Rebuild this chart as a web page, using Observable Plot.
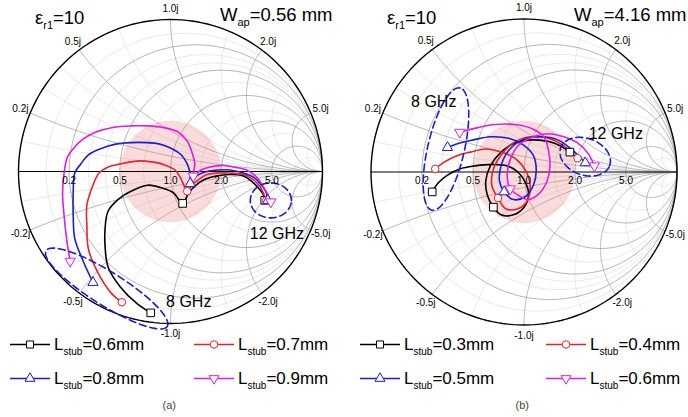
<!DOCTYPE html>
<html><head><meta charset="utf-8">
<script src="https://cdn.jsdelivr.net/npm/d3@7"></script>
<script src="https://cdn.jsdelivr.net/npm/@observablehq/plot@0.6"></script>
<style>
body{margin:0;background:#fff;font-family:"Liberation Sans",Arial,sans-serif;}
#wrap{position:relative;width:688px;height:417px;overflow:hidden;background:#fff}
.abs{position:absolute;white-space:nowrap;line-height:1;color:#000}
.title{font-size:18.5px}
.title .sub{font-size:11px;position:relative;top:5px}
.leg{font-size:17px}
.leg .sub{font-size:10px;position:relative;top:5px}
.cap{font-size:11px;color:#444}
</style></head>
<body><div id="wrap"></div>
<script>
// ---------------- data ----------------
const tickR = [0.2, 0.5, 1.0, 2.0, 5.0];
const tickRLabels = ["0.2", "0.5", "1.0", "2.0", "5.0"];
const tickX = [0.2, 0.5, 1.0, 2.0, 5.0, -0.2, -0.5, -1.0, -2.0, -5.0];
const tickXLabels = ["0.2j", "0.5j", "1.0j", "2.0j", "5.0j", "-0.2j", "-0.5j", "-1.0j", "-2.0j", "-5.0j"];
const minorR = [0.1, 0.3, 0.4, 0.7, 1.5, 3, 10];
const minorX = [0.1, 0.3, 0.4, 0.7, 1.5, 3, 10, -0.1, -0.3, -0.4, -0.7, -1.5, -3, -10];
const matchRadius = 1 / 3; // shaded |Gamma| region (VSWR 2)

const seriesColors = ["#000000", "#e8232a", "#1c1cd0", "#e01ee0"];
const seriesSymbols = ["square", "circle", "triangle", "triangleDown"];
const stubA = ["0.6", "0.7", "0.8", "0.9"];
const stubB = ["0.3", "0.4", "0.5", "0.6"];
const titleA = {eps: "10", wap: "0.56"};
const titleB = {eps: "10", wap: "4.16"};

// reflection coefficient (Re, Im) traces, 8 GHz -> 12 GHz
const blackA = [[-0.13,-0.93],[-0.22,-0.87],[-0.33,-0.76],[-0.41,-0.63],[-0.43,-0.50],[-0.43,-0.37],[-0.41,-0.26],[-0.34,-0.18],[-0.26,-0.13],[-0.15,-0.09],[-0.05,-0.11],[0.02,-0.14],[0.08,-0.21],[0.12,-0.14],[0.18,-0.08],[0.23,-0.05],[0.30,-0.03],[0.39,-0.02],[0.48,-0.03],[0.54,-0.07],[0.58,-0.11],[0.61,-0.15],[0.62,-0.19]];
const redA = [[-0.32,-0.86],[-0.39,-0.80],[-0.48,-0.66],[-0.54,-0.51],[-0.55,-0.36],[-0.55,-0.22],[-0.51,-0.09],[-0.47,-0.01],[-0.41,0.03],[-0.33,0.05],[-0.20,0.07],[-0.10,0.06],[-0.03,0.04],[0.03,0.01],[0.07,-0.05],[0.11,-0.13],[0.14,-0.09],[0.19,-0.05],[0.24,-0.02],[0.32,-0.01],[0.39,-0.01],[0.48,-0.02],[0.54,-0.05],[0.59,-0.10],[0.61,-0.14],[0.63,-0.19]];
const blueA = [[-0.51,-0.73],[-0.57,-0.60],[-0.63,-0.44],[-0.64,-0.29],[-0.64,-0.14],[-0.63,-0.01],[-0.59,0.05],[-0.54,0.11],[-0.46,0.15],[-0.36,0.18],[-0.26,0.19],[-0.16,0.19],[-0.07,0.18],[0.01,0.15],[0.07,0.11],[0.11,0.05],[0.13,-0.02],[0.13,-0.08],[0.17,-0.03],[0.24,0.00],[0.32,0.01],[0.39,0.01],[0.48,-0.01],[0.55,-0.04],[0.60,-0.09],[0.63,-0.14],[0.64,-0.19]];
const magentaA = [[-0.66,-0.59],[-0.68,-0.47],[-0.70,-0.29],[-0.71,-0.14],[-0.70,-0.01],[-0.68,0.09],[-0.64,0.15],[-0.58,0.21],[-0.49,0.26],[-0.38,0.29],[-0.26,0.30],[-0.15,0.30],[-0.05,0.29],[0.05,0.26],[0.11,0.20],[0.14,0.13],[0.16,0.05],[0.15,-0.03],[0.20,0.01],[0.26,0.03],[0.34,0.04],[0.41,0.03],[0.50,0.01],[0.57,-0.04],[0.61,-0.10],[0.64,-0.15],[0.66,-0.20]];
const midA = [12, 15, 17, 17];

const blackB = [[-0.60,-0.13],[-0.56,-0.07],[-0.50,-0.02],[-0.42,0.02],[-0.32,0.04],[-0.21,0.05],[-0.11,0.04],[-0.04,0.00],[0.01,-0.07],[0.03,-0.15],[0.00,-0.23],[-0.07,-0.28],[-0.15,-0.28],[-0.20,-0.23],[-0.24,-0.15],[-0.25,-0.06],[-0.22,0.04],[-0.15,0.13],[-0.06,0.19],[0.06,0.21],[0.16,0.20],[0.24,0.17],[0.30,0.13]];
const redB = [[-0.58,0.02],[-0.53,0.06],[-0.43,0.11],[-0.35,0.13],[-0.25,0.15],[-0.15,0.13],[-0.06,0.09],[0.01,0.01],[0.04,-0.09],[0.02,-0.19],[-0.04,-0.24],[-0.12,-0.24],[-0.17,-0.17],[-0.21,-0.09],[-0.20,0.02],[-0.15,0.11],[-0.07,0.19],[0.04,0.23],[0.16,0.22],[0.26,0.17],[0.35,0.09]];
const blueB = [[-0.50,0.16],[-0.42,0.19],[-0.33,0.21],[-0.22,0.23],[-0.10,0.22],[-0.01,0.18],[0.06,0.11],[0.08,0.01],[0.06,-0.09],[0.01,-0.16],[-0.07,-0.18],[-0.13,-0.13],[-0.16,-0.06],[-0.15,0.04],[-0.10,0.14],[-0.01,0.21],[0.11,0.23],[0.22,0.21],[0.31,0.15],[0.40,0.06]];
const magentaB = [[-0.42,0.26],[-0.30,0.29],[-0.19,0.31],[-0.06,0.31],[0.06,0.28],[0.13,0.23],[0.16,0.14],[0.17,0.04],[0.15,-0.06],[0.10,-0.14],[0.03,-0.18],[-0.04,-0.15],[-0.09,-0.11],[-0.11,-0.02],[-0.09,0.08],[-0.04,0.17],[0.06,0.23],[0.16,0.25],[0.26,0.23],[0.35,0.19],[0.42,0.12],[0.46,0.04]];
const midB = [13, 12, 11, 12];

// dashed annotation loops (centre, semi-axes, tilt in degrees) and notes
const loopsA = [{cu: 0.66, cv: -0.19, a: 0.135, b: 0.115, deg: 0}, {cu: -0.42, cv: -0.77, a: 0.47, b: 0.11, deg: -32}];
const loopsB = [{cu: -0.51, cv: 0.15, a: 0.41, b: 0.12, deg: 77}, {cu: 0.40, cv: 0.10, a: 0.17, b: 0.12, deg: -20}];
const notesA = [{u: 0.70, v: -0.41, text: "12 GHz"}, {u: 0.12, v: -0.86, text: "8 GHz"}];
const notesB = [{u: -0.59, v: 0.46, text: "8 GHz"}, {u: 0.60, v: 0.25, text: "12 GHz"}];

// ---------------- helpers ----------------
const triDown = {draw(ctx, size) {
  const y = -Math.sqrt(size / (Math.sqrt(3) * 3));
  ctx.moveTo(0, -y * 2); ctx.lineTo(-Math.sqrt(3) * y, y); ctx.lineTo(Math.sqrt(3) * y, y); ctx.closePath();
}};
const symbolFor = s => s === "triangleDown" ? triDown : s;
const d3SymbolFor = s => ({square: d3.symbolSquare, circle: d3.symbolCircle, triangle: d3.symbolTriangle, triangleDown: triDown})[s];

function rCircle(r, xmax, id, out) {
  const c = r / (1 + r), rad = 1 / (1 + r);
  const half = isFinite(xmax) ? 2 * Math.atan(xmax / (1 + r)) : Math.PI;
  const n = 180;
  for (let i = 0; i <= n; i++) {
    const th = Math.PI - half + 2 * half * i / n;
    out.push({id, u: c + rad * Math.cos(th), v: rad * Math.sin(th)});
  }
}
function xArc(x, rmax, id, out) {
  const n = 220, amax = isFinite(rmax) ? Math.atan(rmax) : Math.PI / 2 * 0.9995;
  for (let i = 0; i <= n; i++) {
    const r = Math.tan(amax * i / n), den = (r + 1) ** 2 + x * x;
    out.push({id, u: (r * r - 1 + x * x) / den, v: 2 * x / den});
  }
}
const majorGrid = [], minorGrid = [];
let gid = 0;
tickR.forEach(r => rCircle(r, Infinity, gid++, majorGrid));
tickX.forEach(x => xArc(x, Infinity, gid++, majorGrid));
minorR.forEach(r => rCircle(r, Math.abs(r) >= 10 ? Infinity : 5, gid++, minorGrid));
minorX.forEach(x => xArc(x, Math.abs(x) >= 10 ? Infinity : 5, gid++, minorGrid));
const unit = d3.range(0, 361, 2).map(t => ({u: Math.cos(t * Math.PI / 180), v: Math.sin(t * Math.PI / 180)}));
const pink = unit.map(p => ({u: p.u * matchRadius, v: p.v * matchRadius}));

function loopPts(loops) {
  const out = [];
  loops.forEach((L, id) => {
    const th = L.deg * Math.PI / 180;
    for (let k = 0; k <= 90; k++) {
      const t = k / 90 * 2 * Math.PI;
      const a = L.a * Math.cos(t), b = L.b * Math.sin(t);
      out.push({id, u: L.cu + a * Math.cos(th) - b * Math.sin(th), v: L.cv + a * Math.sin(th) + b * Math.cos(th)});
    }
  });
  return out;
}

function smith(cfg) {
  const {cx, cy, R, curves, mids, loops, notes} = cfg;
  const marks = [
    Plot.line(minorGrid, {x: "u", y: "v", z: "id", stroke: "#d9d9d9", strokeWidth: 0.6}),
    Plot.line(majorGrid, {x: "u", y: "v", z: "id", stroke: "#9c9c9c", strokeWidth: 0.75}),
    Plot.line(pink, {x: "u", y: "v", fill: "#ee7f7f", fillOpacity: 0.28, stroke: "none"}),
    Plot.line(unit, {x: "u", y: "v", stroke: "#000", strokeWidth: 1.4}),
    Plot.ruleY([0], {x1: -1, x2: 1, stroke: "#000", strokeWidth: 1})
  ];
  curves.forEach((c, i) => marks.push(Plot.line(c, {x: d => d[0], y: d => d[1], stroke: seriesColors[i], strokeWidth: 1.6, curve: "catmull-rom"})));
  marks.push(Plot.line(loopPts(loops), {x: "u", y: "v", z: "id", stroke: "#1c1cd0", strokeWidth: 1.6, strokeDasharray: "7,4", curve: "linear"}));
  curves.forEach((c, i) => {
    const pts = [c[0], c[mids[i]], c[c.length - 1]];
    const sym = seriesSymbols[i];
    marks.push(Plot.dot(pts, {x: d => d[0], y: d => d[1], symbol: symbolFor(sym), r: sym === "square" ? 4.3 : 3.8, stroke: seriesColors[i], fill: "white", strokeWidth: 1}));
  });
  marks.push(Plot.text(tickR, {x: r => (r - 1) / (r + 1), y: () => 0, dy: 9, text: (d, i) => tickRLabels[i], fontSize: 10, fill: "#000"}));
  marks.push(Plot.text(tickX, {x: x => 1.07 * (x * x - 1) / (1 + x * x), y: x => 1.07 * 2 * x / (1 + x * x), text: (d, i) => tickXLabels[i], fontSize: 10, fill: "#000"}));
  marks.push(Plot.text(notes, {x: "u", y: "v", text: "text", fontSize: 16, fill: "#000"}));
  return Plot.plot({
    width: 344, height: 340, margin: 0,
    x: {domain: [-1, 1], range: [cx - R, cx + R], axis: null},
    y: {domain: [-1, 1], range: [cy + R, cy - R], axis: null},
    style: {background: "transparent", fontFamily: "Liberation Sans, Arial, sans-serif", overflow: "visible"},
    marks
  });
}

const wrap = document.getElementById("wrap");
function place(node, left, top) { node.style.position = "absolute"; node.style.left = left + "px"; node.style.top = top + "px"; wrap.appendChild(node); }

place(smith({cx: 170, cy: 171, R: 152, curves: [blackA, redA, blueA, magentaA], mids: midA, loops: loopsA, notes: notesA}), 0, 0);
place(smith({cx: 179.5, cy: 171.5, R: 153, curves: [blackB, redB, blueB, magentaB], mids: midB, loops: loopsB, notes: notesB}), 344, 0);

function html(cls, inner, left, top) { const d = document.createElement("div"); d.className = "abs " + cls; d.innerHTML = inner; place(d, left, top); return d; }
html("title", `ε<span class="sub">r1</span>=${titleA.eps}`, 35, 9);
html("title", `W<span class="sub">ap</span>=${titleA.wap} mm`, 220, 6);
html("title", `ε<span class="sub">r1</span>=${titleB.eps}`, 387, 9);
const wb = html("title", `W<span class="sub">ap</span>=${titleB.wap} mm`, 0, 6);
wb.style.left = Math.min(576, 687 - wb.offsetWidth) + "px";

function legendItem(sx, tx, top, i, label) {
  const svg = d3.create("svg").attr("width", 40).attr("height", 17);
  svg.append("line").attr("x1", 0).attr("x2", 40).attr("y1", 8.5).attr("y2", 8.5).attr("stroke", seriesColors[i]).attr("stroke-width", 1.6);
  const sym = seriesSymbols[i];
  const size = sym === "square" ? 50 : sym === "circle" ? 45 : 42;
  svg.append("path").attr("transform", "translate(20,8.5)").attr("d", d3.symbol(d3SymbolFor(sym), size)()).attr("fill", "white").attr("stroke", seriesColors[i]).attr("stroke-width", 1);
  place(svg.node(), sx, top);
  html("leg", `L<span class="sub">stub</span>=${label}mm`, tx, top);
}
const rows = [336, 370];
stubA.forEach((s, i) => legendItem(i % 2 ? 194 : 10, i % 2 ? 238 : 54, rows[Math.floor(i / 2)], i, s));
stubB.forEach((s, i) => legendItem(i % 2 ? 546 : 360, i % 2 ? 590 : 404, rows[Math.floor(i / 2)], i, s));

const ca = html("cap", "(a)", 0, 400); ca.style.left = (169 - ca.offsetWidth / 2) + "px";
const cb = html("cap", "(b)", 0, 400); cb.style.left = (522 - cb.offsetWidth / 2) + "px";
</script></body></html>
